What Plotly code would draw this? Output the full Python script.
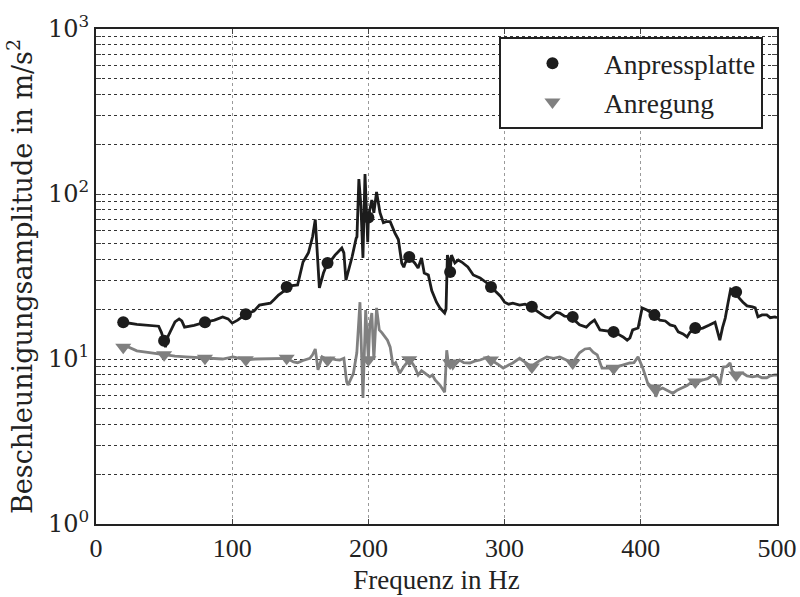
import plotly.graph_objects as go

# ---------------- data ----------------
freq_platte = [20, 30, 46, 48, 50, 51, 53, 55, 58, 61, 63, 65, 72, 80, 87, 93, 97, 100, 104, 110, 116, 120,
               124, 128, 131, 134, 138, 140, 144, 148, 150, 152, 156, 159, 161, 162.5, 164, 167, 170, 173,
               175.5, 180.5, 182, 183.5, 186, 188, 191, 191.6, 193, 194.5, 196, 197.5, 199.5, 200, 201, 202.5,
               204, 206, 208.5, 211, 213, 216, 219.5, 222, 224.5, 226, 227, 230, 234, 236.5, 239, 241, 244,
               246.5, 250, 252.5, 256, 257, 258, 259, 260, 261, 263.5, 266, 268.5, 271, 273, 277, 280, 282,
               287, 290, 294, 297, 300, 303, 306, 311, 315, 320, 322, 326, 330, 333, 336, 338, 340.5, 344,
               350, 352, 355, 360, 363, 366, 370, 375, 380, 383, 387, 390, 392, 394, 398, 401, 404.5, 410,
               414, 418, 421.5, 425, 427.5, 431, 434, 436, 440, 442, 445.5, 450, 454.5, 456, 458, 460, 462,
               464, 466, 470, 472, 475, 478, 482, 484, 486, 489, 492.5, 495, 498.5, 500]
acc_platte = [16.7, 16.2, 15.8, 14.5, 12.9, 11.8, 13.8, 15.0, 16.8, 17.5, 17.0, 15.6, 16.0, 16.7, 17.2, 18.0,
              17.5, 16.5, 17.2, 18.7, 19.5, 21.2, 21.5, 21.8, 23.0, 24.4, 25.8, 27.3, 27.8, 28.1, 33.0, 38.7,
              44.0, 55.0, 70.0, 45.0, 27.0, 33.2, 38.2, 40.0, 42.6, 47.0, 44.0, 30.1, 36.0, 41.5, 54.0, 55.0,
              123.0, 85.0, 41.0, 132.0, 51.0, 72.0, 80.0, 92.0, 77.0, 103.0, 77.0, 67.0, 68.0, 68.0, 58.0,
              53.0, 38.0, 36.0, 38.2, 41.5, 38.2, 35.6, 41.0, 33.2, 32.3, 26.0, 22.1, 20.4, 19.0, 20.0, 42.6,
              40.0, 33.7, 42.6, 38.2, 39.8, 38.7, 37.0, 36.1, 32.3, 31.5, 31.0, 28.9, 27.3, 25.5, 24.0, 22.1,
              21.5, 21.8, 21.2, 21.5, 20.7, 20.0, 19.0, 18.0, 17.7, 18.7, 19.2, 19.0, 18.2, 18.0, 17.0, 16.1,
              15.6, 16.5, 17.2, 15.0, 14.8, 14.6, 14.2, 13.6, 13.0, 13.4, 15.0, 15.4, 20.4, 19.8, 18.5, 17.2,
              17.0, 16.1, 15.8, 14.6, 14.2, 13.6, 14.5, 15.4, 15.2, 15.4, 16.0, 16.7, 15.0, 13.0, 15.5, 17.7,
              21.8, 26.5, 25.5, 23.5, 22.1, 21.0, 20.7, 20.4, 18.0, 18.5, 18.5, 17.8, 18.0, 17.8]

freq_anregung = [20, 24, 30, 36.7, 45, 50, 58, 66, 75, 80, 93, 100.5, 105, 110, 117, 122.5, 130, 140, 145,
                 148, 152, 157, 159, 161, 163, 166, 170, 172, 176, 179, 182, 184, 185, 187, 189, 191.5, 193.8,
                 196, 198, 200, 201, 202.5, 204, 206, 208, 210, 212, 214, 216, 218, 220, 223, 226, 230, 232,
                 234, 236.5, 239, 241.5, 245, 247, 249, 252.5, 256, 257.5, 259, 260, 262, 264, 267, 270,
                 274.5, 278, 282, 288, 290, 295, 299, 303, 306, 311, 315, 320, 322, 326, 331, 336, 340.5,
                 345, 350, 355, 359, 362.5, 365, 368, 371.5, 375, 380, 383, 387, 392, 395, 398, 401.5, 405,
                 407, 410, 411, 413, 416, 420, 423.5, 427, 431, 434, 437.5, 440, 442, 445.5, 449, 453, 456,
                 458, 460.5, 463, 465.5, 467, 470, 472, 475, 478, 482, 486, 489, 492.5, 495, 498.5, 500]
acc_anregung = [11.8, 11.8, 11.2, 11.0, 10.8, 10.6, 10.4, 10.3, 10.2, 10.1, 10.0, 10.3, 10.1, 9.9, 10.0,
                10.0, 10.1, 10.1, 9.6, 9.5, 9.8, 10.1, 10.6, 11.5, 8.6, 10.3, 9.86, 10.1, 9.9, 9.86, 10.1,
                7.3, 6.95, 7.6, 8.2, 10.9, 22.1, 5.8, 19.8, 9.9, 16.0, 19.0, 9.9, 20.4, 15.0, 14.4, 13.6,
                13.0, 11.8, 9.2, 9.5, 8.2, 9.0, 9.9, 9.5, 8.95, 8.0, 8.5, 8.2, 7.8, 8.0, 7.46, 6.95, 6.3,
                11.3, 9.0, 9.46, 8.8, 9.3, 9.86, 9.5, 9.46, 9.7, 9.86, 10.3, 9.86, 9.3, 8.8, 9.2, 9.46, 10.1,
                9.6, 8.95, 9.3, 9.8, 10.3, 10.1, 10.3, 9.9, 9.46, 10.9, 11.5, 11.6, 11.0, 10.6, 8.8, 8.8, 8.8,
                9.0, 9.2, 9.46, 9.5, 10.3, 8.8, 7.16, 6.9, 6.67, 5.9, 6.5, 6.67, 6.4, 6.2, 6.5, 6.76, 6.9,
                7.26, 7.26, 7.3, 7.46, 7.6, 8.0, 7.7, 6.95, 8.95, 9.0, 9.46, 8.5, 8.0, 8.2, 8.2, 7.9, 7.8,
                7.9, 7.7, 7.7, 7.9, 8.0, 8.0]

marker_freqs = [20, 50, 80, 110, 140, 170, 200, 230, 260, 290, 320, 350, 380, 410, 440, 470]

series_names = ["Anpressplatte", "Anregung"]
x_ticks = [0, 100, 200, 300, 400, 500]
y_decades = [1, 10, 100, 1000]
y_decade_labels = ["10<sup>0</sup>", "10<sup>1</sup>", "10<sup>2</sup>", "10<sup>3</sup>"]

# ---------------- figure ----------------
BLACK = "#1c1c1c"
GREY = "#808080"
TXT = "#222222"
SERIF = "Liberation Serif"
WIDE = "DejaVu Serif"


def pick(fs, vs, wanted):
    m = dict(zip(fs, vs))
    return list(wanted), [m[f] for f in wanted]


fig = go.Figure()
fig.add_trace(go.Scatter(x=freq_platte, y=acc_platte, mode="lines",
                         line=dict(color=BLACK, width=2.8), showlegend=False, hoverinfo="skip"))
fig.add_trace(go.Scatter(x=freq_anregung, y=acc_anregung, mode="lines",
                         line=dict(color=GREY, width=2.8), showlegend=False, hoverinfo="skip"))

mx, my = pick(freq_platte, acc_platte, marker_freqs)
fig.add_trace(go.Scatter(x=mx, y=my, mode="markers", name=series_names[0],
                         marker=dict(symbol="circle", size=12, color=BLACK)))
mx, my = pick(freq_anregung, acc_anregung, marker_freqs)
fig.add_trace(go.Scatter(x=mx, y=my, mode="markers", name=series_names[1],
                         marker=dict(symbol="triangle-down", size=14, color=GREY)))

# y ticks: every 1..9 x decade, labels only at decades
y_tickvals, y_ticktext = [], []
for d, lab in zip(y_decades, y_decade_labels):
    y_tickvals.append(d)
    y_ticktext.append(lab)
    if d < 1000:
        for k in range(2, 10):
            y_tickvals.append(d * k)
            y_ticktext.append("")

fig.update_layout(
    width=800, height=597,
    margin=dict(l=96, r=23, t=29, b=73, autoexpand=False),
    paper_bgcolor="white", plot_bgcolor="white",
    font=dict(family=SERIF, size=26, color=TXT),
    legend=dict(x=0.9794, y=0.984, xanchor="right", yanchor="top",
                bgcolor="white", bordercolor=TXT, borderwidth=2,
                font=dict(family=SERIF, size=27.5, color=TXT),
                itemwidth=93, tracegroupgap=0),
    xaxis=dict(range=[0, 500], tickvals=x_ticks, ticks="inside", ticklen=5,
               showline=True, linecolor=TXT, linewidth=2, mirror="ticks",
               showgrid=True, gridcolor="#9a9a9a", griddash="dot", gridwidth=1,
               zeroline=False, automargin=False, tickfont=dict(family=SERIF, size=26),
               title=dict(text="Frequenz in Hz", font=dict(family=SERIF, size=27), standoff=8)),
    yaxis=dict(type="log", range=[0, 3], tickvals=y_tickvals, ticktext=y_ticktext,
               ticks="inside", ticklen=5,
               showline=True, linecolor=TXT, linewidth=2, mirror="ticks",
               showgrid=True, gridcolor="#333333", griddash="dot", gridwidth=1,
               zeroline=False, automargin=False, tickfont=dict(family=WIDE, size=24),
               title=dict(text="Beschleunigungsamplitude in m/s<sup>2</sup>",
                          font=dict(family=WIDE, size=27), standoff=8)),
)

fig.write_html("out.html", config={"displayModeBar": False},
               post_script="document.body.style.margin='0px';document.body.style.padding='0px';")
